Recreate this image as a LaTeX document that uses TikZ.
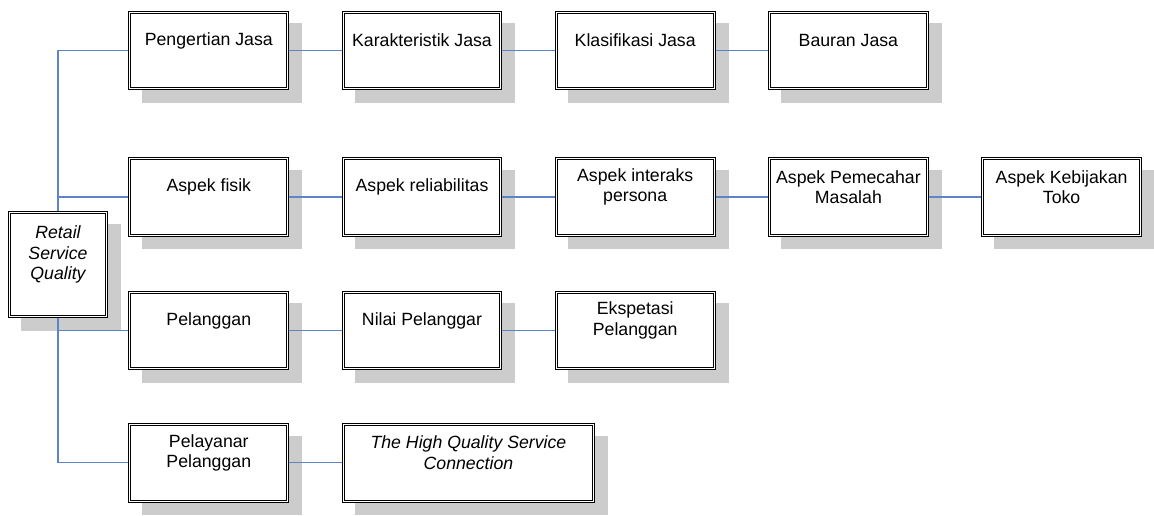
\documentclass[tikz,border=0pt]{standalone}
\usepackage{fontspec}
\setmainfont{Liberation Sans}
\usetikzlibrary{positioning}
\definecolor{linkblue}{RGB}{92,132,200}
\definecolor{shadowgray}{RGB}{204,204,204}
\newcommand{\topicfont}{\fontsize{8.85pt}{10.3pt}\selectfont}
\pgfdeclarelayer{shadow}
\pgfdeclarelayer{links}
\pgfsetlayers{shadow,links,main}
\tikzset{
  topic/.style={draw, double, double distance=0.55pt, line width=0.45pt,
    fill=white, outer sep=0pt, minimum width=78.9pt, minimum height=38.4pt,
    label={[topictext]center:#1}},
  topictext/.style={align=center, font=\topicfont, yshift=5pt, inner sep=0pt},
  connector/.style={draw=linkblue, line width=0.6pt},
  shadowbox/.style={fill=shadowgray},
}
\begin{document}
\begin{tikzpicture}
\useasboundingbox (0,0) rectangle (577pt,-257.5pt);
% root
\node[topic={\itshape Retail\\\itshape Service\\\itshape Quality}, minimum width=48.6pt, minimum height=52.1pt] (rsq) at (29pt,-132.25pt) {};
% row 1
\node[topic=Pengertian Jasa] (pj) at (104.4pt,-25.25pt) {};
\node[topic=Karakteristik Jasa, right=27.7pt of pj] (kj) {};
\node[topic=Klasifikasi Jasa, right=27.7pt of kj] (klj) {};
\node[topic=Bauran Jasa, right=27.7pt of klj] (bj) {};
% row 2
\node[topic=Aspek fisik] (asf) at (104.4pt,-98.5pt) {};
\node[topic=Aspek reliabilitas, right=27.7pt of asf] (arl) {};
\node[topic={Aspek interaks\\persona}, right=27.7pt of arl] (aip) {};
\node[topic={Aspek Pemecahar\\Masalah}, right=27.7pt of aip] (apm) {};
\node[topic={Aspek Kebijakan\\Toko}, right=27.7pt of apm] (akt) {};
% row 3
\node[topic=Pelanggan] (pel) at (104.4pt,-165.25pt) {};
\node[topic=Nilai Pelanggar, right=27.7pt of pel] (npl) {};
\node[topic={Ekspetasi\\Pelanggan}, right=27.7pt of npl] (epl) {};
% row 4
\node[topic={Pelayanar\\Pelanggan}] (ppl) at (104.4pt,-231.4pt) {};
\node[topic={\itshape The High Quality Service\\\itshape Connection}, minimum width=125.35pt, right=27.7pt of ppl] (hqs) {};

\begin{pgfonlayer}{shadow}
\foreach \n in {rsq,pj,kj,klj,bj,asf,arl,aip,apm,akt,pel,npl,epl,ppl,hqs}
  \fill[shadowbox] ([shift={(5.8pt,-6.95pt)}]\n.south west) rectangle ([shift={(7.2pt,-5.55pt)}]\n.north east);
\end{pgfonlayer}

\begin{pgfonlayer}{links}
\draw[connector] (pj.west) -| (rsq.center) |- (ppl.west);
\foreach \n in {asf,pel}
  \draw[connector] (\n.west) -- (\n.west -| rsq.center);
\foreach \a/\b in {pj/kj,kj/klj,klj/bj,asf/arl,arl/aip,aip/apm,apm/akt,pel/npl,npl/epl,ppl/hqs}
  \draw[connector] (\a) -- (\b);
\end{pgfonlayer}
\end{tikzpicture}
\end{document}
